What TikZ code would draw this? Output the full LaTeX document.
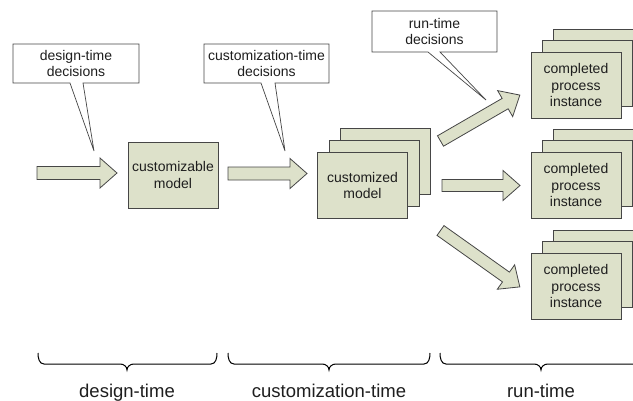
\documentclass[tikz,border=0pt]{standalone}
\usepackage{fontspec}
\setmainfont{Liberation Sans}
\usetikzlibrary{calc}
\definecolor{boxfill}{RGB}{221,225,202}
\definecolor{edgec}{RGB}{70,70,70}
\definecolor{txt}{RGB}{30,30,30}
\tikzset{
 mbox/.style={draw=edgec, fill=boxfill, line width=0.9pt, minimum width=90pt, minimum height=66pt, inner sep=0pt, align=center, font=\fontsize{14}{16.7}\selectfont, text=txt},
 callouttxt/.style={inner sep=0pt, align=center, font=\fontsize{14}{16.7}\selectfont, text=txt},
 calloutshape/.style={draw=edgec, fill=white, line width=0.7pt, line join=miter},
 blk/.style={draw=edgec, fill=boxfill, line width=0.8pt, line join=miter},
 brc/.style={draw=black, line width=1pt},
 lbl/.style={font=\fontsize{18.5}{22}\selectfont, anchor=base, text=txt, inner sep=0pt}
}
\newcommand\blkarrow[3]{%
 \draw[blk] let \p1=($(#2)-(#1)$), \n1={atan2(\y1,\x1)}, \n2={veclen(\x1,\y1)} in
  [shift={(#1)}, rotate=\n1] (0pt,-#3pt) -- ({\n2*1pt-17pt},-#3pt) -- ({\n2*1pt-17pt},-15pt) -- ({\n2*1pt},0pt) -- ({\n2*1pt-17pt},15pt) -- ({\n2*1pt-17pt},#3pt) -- (0pt,#3pt) -- cycle;}
\newcommand\mybrace[3]{%
 \draw[brc] (#1,353) to[out=-90,in=180] (#1+6,364) -- (#3-7,364) to[out=0,in=90] (#3,370) to[out=90,in=180] (#3+7,364) -- (#2-6,364) to[out=0,in=-90] (#2,353);}
\begin{document}
\begin{tikzpicture}[x=1pt,y=-1pt]
\useasboundingbox (0,0) rectangle (633,400);
\clip (0,0) rectangle (633,400);

% callouts
\draw[calloutshape] (13,44) -- (139,44) -- (139,83) -- (83,83) -- (94,151) -- (70,83) -- (13,83) -- cycle;
\node[callouttxt] (c1) at (76,63.5) {design-time\\decisions};
\draw[calloutshape] (204,44) -- (329,44) -- (329,83) -- (275,83) -- (285,151) -- (261,83) -- (204,83) -- cycle;
\node[callouttxt] (c2) at (266.5,63.5) {customization-time\\decisions};
\draw[calloutshape] (372,11) -- (497,11) -- (497,52) -- (440,52) -- (486,100) -- (428,52) -- (372,52) -- cycle;
\node[callouttxt] (c3) at (434.5,31.5) {run-time\\decisions};

% customizable model
\node[mbox] (cz) at (173,175) {customizable\\model};

% customized model stack
\node[mbox] (cmb) at (385.5,161.5) {};
\node[mbox] (cmm) at (374,173.5) {};
\node[mbox] (cm) at (362.5,185.5) {customized\\model};

% completed process instance stacks
\node[mbox] (p1b) at (598,62) {};
\node[mbox] (p1m) at (587,73.5) {};
\node[mbox] (p1) at (576,85) {completed\\process\\instance};

\node[mbox] (p2b) at (598,162) {};
\node[mbox] (p2m) at (587,173.5) {};
\node[mbox] (p2) at (576,185) {completed\\process\\instance};

\node[mbox] (p3b) at (598,263) {};
\node[mbox] (p3m) at (587,274.5) {};
\node[mbox] (p3) at (576,286) {completed\\process\\instance};

% block arrows
\coordinate (a1s) at (37,173);    \coordinate (a1e) at (117,173);
\coordinate (a2s) at (228,173.5); \coordinate (a2e) at (307,173.5);
\coordinate (a3s) at (440.5,141); \coordinate (a3e) at (520,95);
\coordinate (a4s) at (442,185.5); \coordinate (a4e) at (520,185.5);
\coordinate (a5s) at (440.5,230.5); \coordinate (a5e) at (520,287);
\blkarrow{a1s}{a1e}{6.5}
\blkarrow{a2s}{a2e}{6.5}
\blkarrow{a3s}{a3e}{6}
\blkarrow{a4s}{a4e}{6}
\blkarrow{a5s}{a5e}{6}

% braces and labels
\mybrace{38}{217}{127}
\mybrace{228}{430}{329}
\mybrace{440}{642}{541}
\node[lbl] (l1) at (127,397) {design-time};
\node[lbl] (l2) at (329,397) {customization-time};
\node[lbl] (l3) at (541,397) {run-time};
\end{tikzpicture}
\end{document}
